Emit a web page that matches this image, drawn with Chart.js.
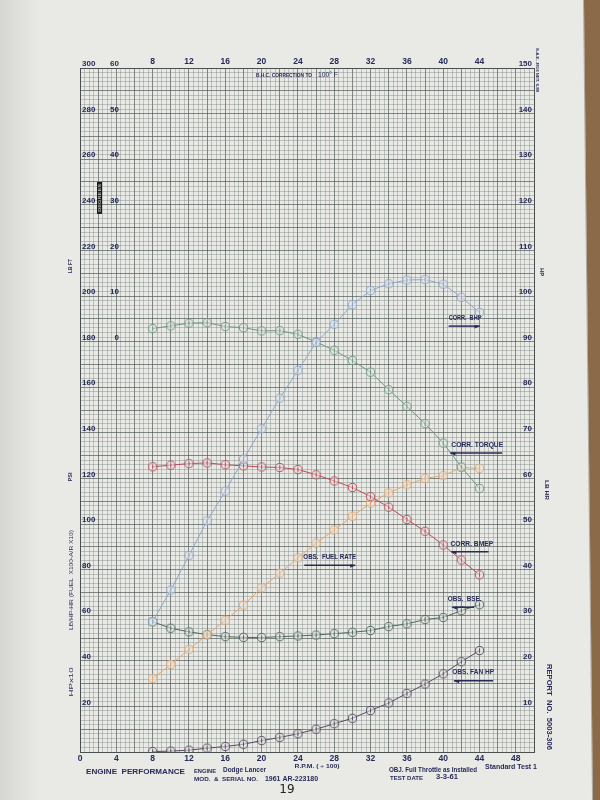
<!DOCTYPE html>
<html><head><meta charset="utf-8">
<script src="https://cdn.jsdelivr.net/npm/chart.js@4.4.1/dist/chart.umd.min.js"></script>
<style>html,body{margin:0;padding:0;background:#e8e8e5;}canvas{display:block}</style>
</head><body>
<canvas id="c" width="600" height="800"></canvas>
<script>
// ---- data ----
const rpm = [8,10,12,14,16,18,20,22,24,26,28,30,32,34,36,38,40,42,44];
const corrBhp = [28.6,35.5,43.1,50.7,57.2,64.2,70.9,77.6,83.7,89.8,93.8,98.1,101.2,102.7,103.5,103.6,102.6,99.7,96.4];
const corrTorque = [185.7,186.9,188.1,188.3,186.6,186.1,184.7,184.8,183.2,179.8,176.2,171.7,166.6,158.9,151.6,144.0,135.5,125.0,115.6];
const corrBmep = [125.1,125.8,126.5,126.8,126.0,125.5,125.0,124.8,123.9,121.6,118.9,116.0,112.0,107.4,102.0,96.8,90.8,84.2,77.7];
const obsFuelRate = [16.1,19.2,22.5,25.7,28.9,32.2,36.0,39.2,42.6,45.8,48.7,51.7,54.6,56.8,58.6,60.0,60.6,62.4,62.2];
const obsBse = [57.1,54.3,52.7,51.5,50.6,50.3,50.2,50.6,50.9,51.3,51.9,52.5,53.3,55.0,56.2,58.1,59.0,62.0,64.6];
const obsFanHp = [0.2,0.4,0.8,1.7,2.4,3.4,5.0,6.4,8.0,10.0,12.4,14.8,18.2,21.5,25.7,29.8,34.3,39.6,44.5];
const bottomTickLabels = [0,4,8,12,16,20,24,28,32,36,40,44,48];
const topTickLabels = [8,12,16,20,24,28,32,36,40,44];
const leftTickLabels = [20,40,60,80,100,120,140,160,180,200,220,240,260,280,300];
const rightTickLabels = [10,20,30,40,50,60,70,80,90,100,110,120,130,140,150];
const secondLeftLabels = [0,10,20,30,40,50,60];

const INK = '#272b58';
const FONT = 'Liberation Sans';
Chart.defaults.font.family = FONT;

function marker(color){
  const c = document.createElement('canvas'); c.width = 11; c.height = 11;
  const g = c.getContext('2d');
  g.fillStyle = 'rgba(232,232,228,0.55)';
  g.strokeStyle = color; g.lineWidth = 1;
  g.beginPath(); g.arc(5.5,5.5,4.1,0,Math.PI*2); g.fill(); g.stroke();
  g.beginPath(); g.moveTo(5.5,3.3); g.lineTo(5.5,7.7); g.stroke();
  return c;
}
function pts(vals){ return rpm.map((r,i)=>({x:r,y:vals[i]})); }
function ds(label, vals, color, axis){
  return {label, data: pts(vals), yAxisID: axis, borderColor: color, borderWidth: 1,
    pointStyle: marker(color), pointRadius: 5, pointHoverRadius: 5, tension: 0, fill: false};
}

function txt(ctx, s, x, y, o){
  o = o || {};
  ctx.save();
  ctx.font = (o.weight||'bold') + ' ' + (o.size||8) + 'px "' + (o.family||FONT) + '"';
  ctx.fillStyle = o.color || INK;
  ctx.textBaseline = 'middle';
  ctx.textAlign = o.align || 'center';
  ctx.translate(x, y);
  if (o.rot) ctx.rotate(o.rot);
  if (o.w){ const m = ctx.measureText(s).width; ctx.scale(o.w/m, 1); }
  ctx.fillText(s, 0, 0);
  ctx.restore();
}

const notes = [
  {t:'CORR.  BHP',    x0:40.6, x1:44.2, y:190.2, a0:40.6, a1:44.0, ay:186.8, head:'r'},
  {t:'CORR. TORQUE',  x0:40.9, x1:46.6, y:134.7, a0:40.8, a1:46.5, ay:131.1, head:'l'},
  {t:'CORR. BMEP',    x0:40.8, x1:45.5, y:91.0,  a0:40.9, a1:45.0, ay:87.8,  head:'l'},
  {t:'OBS.  FUEL RATE', x0:24.6, x1:30.4, y:85.5, a0:24.7, a1:30.3, ay:81.9, head:'r'},
  {t:'OBS.  BSE.',    x0:40.5, x1:44.2, y:67.0,  a0:41.0, a1:43.4, ay:63.5,  head:'l'},
  {t:'OBS. FAN HP',   x0:41.0, x1:45.6, y:35.0,  a0:41.2, a1:45.5, ay:31.3,  head:'l'}
];

const paper = {
  id:'paper',
  beforeDraw(chart){
    const ctx = chart.ctx;
    ctx.save();
    ctx.fillStyle = '#e9e9e6'; ctx.fillRect(0,0,600,800);
    const g = ctx.createLinearGradient(0,0,40,0);
    g.addColorStop(0,'rgba(195,195,190,0.5)'); g.addColorStop(1,'rgba(195,195,190,0)');
    ctx.fillStyle = g; ctx.fillRect(0,0,40,800);
    ctx.fillStyle = '#8a6a48';
    ctx.beginPath(); ctx.moveTo(584,0); ctx.lineTo(600,0); ctx.lineTo(600,800); ctx.lineTo(593,800); ctx.closePath(); ctx.fill();
    ctx.strokeStyle = 'rgba(120,110,100,0.5)'; ctx.lineWidth = 1;
    ctx.beginPath(); ctx.moveTo(583.5,0); ctx.lineTo(592.5,800); ctx.stroke();
    ctx.restore();
  },
  afterDraw(chart){
    const ctx = chart.ctx, xs = chart.scales.x, ys = chart.scales.y, a = chart.chartArea;
    secondLeftLabels.forEach(v=>{
      txt(ctx, String(v), a.left+39, ys.getPixelForValue(180+2*v)-4, {size:8, align:'right'});
    });
    const sy0 = ys.getPixelForValue(250), sy1 = ys.getPixelForValue(236);
    ctx.fillStyle = '#1a1a1a'; ctx.fillRect(a.left+17, sy0, 5, sy1-sy0);
    txt(ctx,'DEGREES', a.left+19.5, (sy0+sy1)/2, {size:4, color:'#bbb', rot:-Math.PI/2, w:sy1-sy0-4});
    notes.forEach(n=>{
      const x0 = xs.getPixelForValue(n.x0), x1 = xs.getPixelForValue(n.x1);
      txt(ctx, n.t, (x0+x1)/2, ys.getPixelForValue(n.y), {size:7, w:x1-x0});
      const a0 = xs.getPixelForValue(n.a0), a1 = xs.getPixelForValue(n.a1), ay = ys.getPixelForValue(n.ay);
      ctx.save(); ctx.strokeStyle = INK; ctx.fillStyle = INK; ctx.lineWidth = 1.5;
      ctx.beginPath(); ctx.moveTo(a0, ay); ctx.lineTo(a1, ay); ctx.stroke();
      ctx.beginPath();
      if (n.head==='r'){ ctx.moveTo(a1+1, ay); ctx.lineTo(a1-5, ay-1); ctx.lineTo(a1-5, ay+2.5); }
      else { ctx.moveTo(a0-1, ay); ctx.lineTo(a0+5, ay-1); ctx.lineTo(a0+5, ay+2.5); }
      ctx.closePath(); ctx.fill(); ctx.restore();
    });
    txt(ctx,'B.H.C. CORRECTION TO', 284, 76, {size:5, w:56});
    txt(ctx,'100° F', 328, 75, {size:8, weight:'normal', w:20});
    txt(ctx,'LB FT', 70, 266, {size:6, rot:-Math.PI/2, w:14});
    txt(ctx,'PSI', 70, 477, {size:6, rot:-Math.PI/2, w:9});
    txt(ctx,'LB/HP-HR (FUEL  X100-A/R X10)', 71, 580, {size:6, weight:'normal', rot:-Math.PI/2, w:100});
    txt(ctx,'HPx10', 71, 682, {size:6, weight:'normal', rot:-Math.PI/2, w:29});
    txt(ctx,'HP', 542, 272, {size:6, rot:Math.PI/2, w:8});
    txt(ctx,'LB HR', 547, 490, {size:6, rot:Math.PI/2, w:20});
    txt(ctx,'REPORT  NO.  5003-306', 549, 707, {size:7.5, rot:Math.PI/2, w:86});
    txt(ctx,'S.A.E. J816 NET. 6.88', 537, 70, {size:4, rot:Math.PI/2, w:44});
    txt(ctx,'Standard Test 1', 537, 767, {size:8, align:'right', w:52});
    txt(ctx,'R.P.M. ( ÷ 100)', 317, 766, {size:6, w:45});
    txt(ctx,'ENGINE  PERFORMANCE', 86, 772, {size:8, align:'left', w:99});
    txt(ctx,'ENGINE', 194, 771, {size:6, align:'left', w:22});
    txt(ctx,'Dodge Lancer', 223, 770, {size:7, align:'left', w:43});
    txt(ctx,'MOD.  &  SERIAL NO.', 194, 779, {size:6, align:'left', w:64});
    txt(ctx,'1961 AR-223180', 265, 779, {size:7.5, align:'left', w:53});
    txt(ctx,'OBJ. Full Throttle as Installed', 389, 770, {size:7, align:'left', w:88});
    txt(ctx,'TEST DATE', 390, 778, {size:6, align:'left', w:33});
    txt(ctx,'3-3-61', 436, 777, {size:7.5, align:'left', w:22});
    txt(ctx,'19', 287, 790, {size:12, weight:'normal', family:'DejaVu Sans', color:'#222'});
  }
};

const minorC = 'rgba(115,125,122,0.38)', majorC = 'rgba(80,90,88,0.7)';
new Chart(document.getElementById('c'), {
  type:'line',
  data:{ datasets:[
    ds('CORR. BHP', corrBhp, '#8ea6c9', 'yR'),
    ds('CORR. TORQUE', corrTorque, '#6c9680', 'y'),
    ds('CORR. BMEP', corrBmep, '#b34e5a', 'y'),
    ds('OBS. FUEL RATE', obsFuelRate, '#e0a870', 'yR'),
    ds('OBS. BSE', obsBse, '#4d685d', 'y'),
    ds('OBS. FAN HP', obsFanHp, '#554a5f', 'y')
  ]},
  options:{
    responsive:false, animation:false, devicePixelRatio:1,
    layout:{padding:{left:80, right:66, top:56, bottom:36}},
    plugins:{legend:{display:false}, tooltip:{enabled:false}},
    scales:{
      x:{type:'linear', position:'bottom', min:0, max:50,
        afterFit:s=>{s.height=12;},
        border:{display:true, color:'#4a4f50'},
        grid:{drawTicks:false, color:c=>(c.tick && c.tick.value%2===0)?majorC:minorC, lineWidth:1},
        ticks:{stepSize:0.5, autoSkip:false, maxRotation:0, padding:2, color:INK, font:{size:8.5, weight:'bold'},
          callback:v=>bottomTickLabels.includes(v)?String(v):''}},
      x2:{type:'linear', position:'top', min:0, max:50,
        afterFit:s=>{s.height=12;},
        border:{display:true, color:'#4a4f50'},
        grid:{display:false, drawTicks:false},
        ticks:{stepSize:4, autoSkip:false, maxRotation:0, padding:1, color:INK, font:{size:8.5, weight:'bold'},
          callback:v=>topTickLabels.includes(v)?String(v):''}},
      y:{type:'linear', position:'left', min:0, max:300,
        afterFit:s=>{s.width=0;},
        border:{display:true, color:'#4a4f50'},
        grid:{drawTicks:false, color:c=>(c.tick && c.tick.value%10===0)?majorC:minorC, lineWidth:1},
        ticks:{stepSize:2, autoSkip:false, mirror:true, padding:2, labelOffset:-4, color:INK, font:{size:8, weight:'bold'},
          callback:v=>leftTickLabels.includes(v)?String(v):''}},
      yR:{type:'linear', position:'right', min:0, max:150,
        afterFit:s=>{s.width=0;},
        border:{display:true, color:'#4a4f50'},
        grid:{display:false, drawTicks:false},
        ticks:{stepSize:10, autoSkip:false, mirror:true, padding:-2, labelOffset:-4, color:INK, font:{size:8, weight:'bold'},
          callback:v=>rightTickLabels.includes(v)?String(v):''}}
    }
  },
  plugins:[paper]
});
</script>
</body></html>
